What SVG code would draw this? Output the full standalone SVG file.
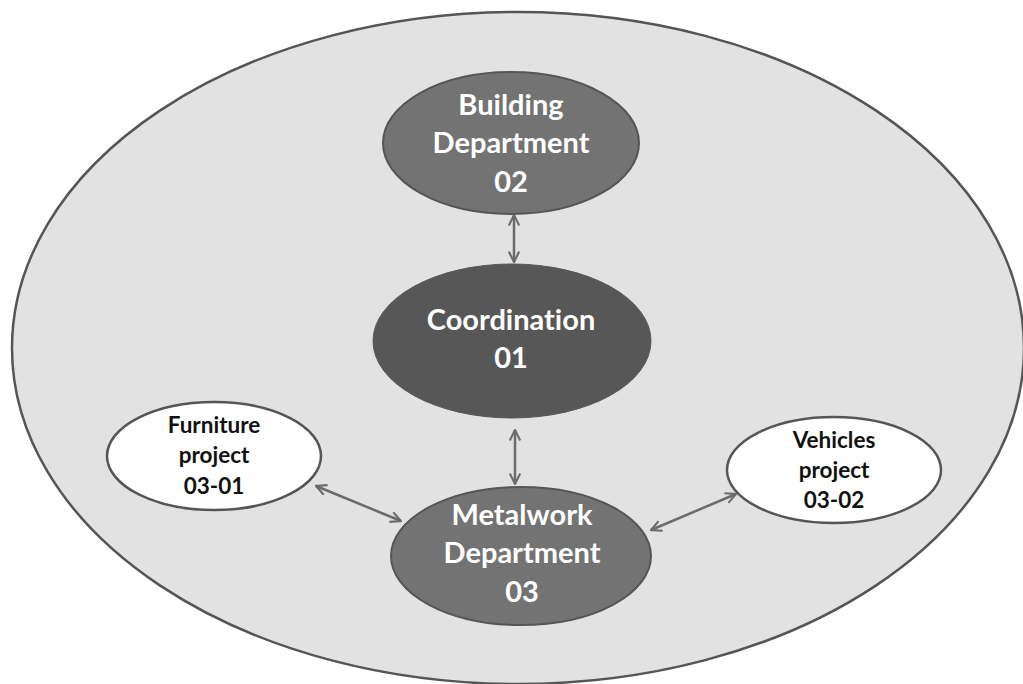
<svg xmlns="http://www.w3.org/2000/svg" width="1023" height="684" viewBox="0 0 1023 684">
  <style>
    .dept { fill: #737373; stroke: #555555; stroke-width: 2; }
    .core { fill: #575757; stroke: #575757; stroke-width: 1; }
    .proj { fill: #ffffff; stroke: #555555; stroke-width: 2.5; }
    text { font-variant-ligatures: none; }
    .wt { font-family: Lato, "Open Sans", "Liberation Sans", sans-serif; font-weight: bold; font-size: 29px; fill: #ffffff; text-anchor: middle; }
    .bt { font-family: Lato, "Open Sans", "Liberation Sans", sans-serif; font-weight: bold; font-size: 22.5px; fill: #111111; text-anchor: middle; }
    .link { stroke: #6b6b6b; stroke-width: 2.5; fill: none; marker-start: url(#chev); marker-end: url(#chev); }
  </style>
  <defs>
    <marker id="chev" viewBox="0 0 12 12" refX="11" refY="6" markerWidth="5" markerHeight="5" orient="auto-start-reverse" markerUnits="strokeWidth">
      <path d="M1,1 L11,6 L1,11" fill="none" stroke="#6b6b6b" stroke-width="2"/>
    </marker>
  </defs>

  <rect width="1023" height="684" fill="#ffffff"/>

  <!-- outer organisation boundary -->
  <g id="organisation">
    <ellipse cx="518" cy="348" rx="506" ry="336" fill="#e2e2e2" stroke="#555555" stroke-width="2.5"/>
  </g>

  <!-- connectors -->
  <g id="connectors">
    <line class="link" x1="514" y1="215" x2="514" y2="262"/>
    <line class="link" x1="515" y1="430" x2="515" y2="484"/>
    <line class="link" x1="316" y1="486" x2="401" y2="521"/>
    <line class="link" x1="651" y1="530" x2="736" y2="494"/>
  </g>

  <g id="building">
    <ellipse class="dept" cx="511" cy="143" rx="128" ry="71"/>
    <text class="wt" x="511" y="115">Building</text>
    <text class="wt" x="511" y="153">Department</text>
    <text class="wt" x="511" y="192">02</text>
  </g>

  <g id="coordination">
    <ellipse class="core" cx="512" cy="341" rx="139" ry="77"/>
    <text class="wt" x="511" y="330">Coordination</text>
    <text class="wt" x="511" y="368">01</text>
  </g>

  <g id="metalwork">
    <ellipse class="dept" cx="521" cy="556" rx="130" ry="69"/>
    <text class="wt" x="522" y="525">Metalwork</text>
    <text class="wt" x="522" y="563">Department</text>
    <text class="wt" x="522" y="602">03</text>
  </g>

  <g id="furniture">
    <ellipse class="proj" cx="214" cy="456" rx="107" ry="54"/>
    <text class="bt" x="214" y="433">Furniture</text>
    <text class="bt" x="214" y="463">project</text>
    <text class="bt" x="214" y="494">03-01</text>
  </g>

  <g id="vehicles">
    <ellipse class="proj" cx="834" cy="470" rx="107" ry="53"/>
    <text class="bt" x="834" y="448">Vehicles</text>
    <text class="bt" x="834" y="478">project</text>
    <text class="bt" x="834" y="508">03-02</text>
  </g>
</svg>
